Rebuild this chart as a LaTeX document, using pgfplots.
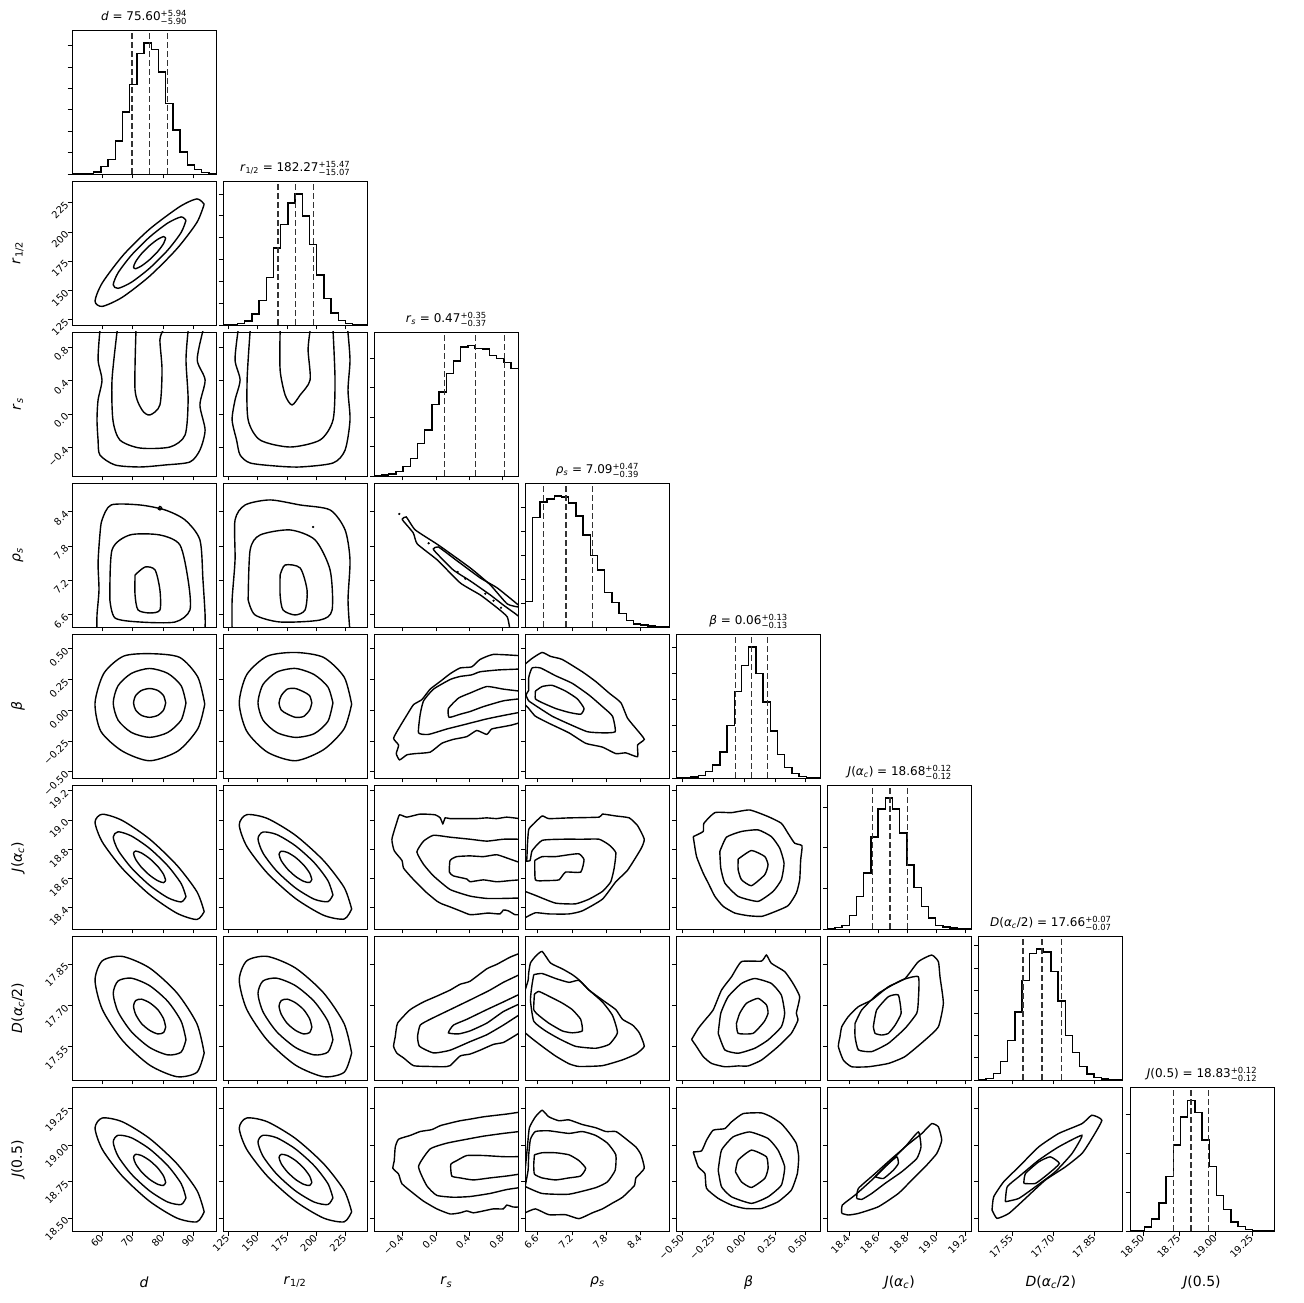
\documentclass[border=0pt]{standalone}
\usepackage{pgfplots}
\pgfplotsset{compat=1.18}
\usepackage{fontspec}
\setmainfont{DejaVu Sans}
\newcommand{\pq}[2]{$^{\mbox{\fontsize{8.4}{9}\selectfont +#1}}_{\mbox{\fontsize{8.4}{9}\selectfont −#2}}$}
\pgfplotsset{
  cp/.style={scale only axis, width=144pt, height=144pt, anchor=south west,
    axis line style={line width=0.8pt}, tick align=outside, major tick length=4.5pt,
    every tick/.append style={line width=0.8pt, black}, xtick pos=left, ytick pos=left,
    xticklabel=\empty, yticklabel=\empty,
    ticklabel style={font=\fontsize{9.8}{11}\selectfont},
    xticklabel style={rotate=45, anchor=east, inner sep=1pt},
    yticklabel style={rotate=45, anchor=east, inner sep=1pt},
    label style={font=\fontsize{14}{16}\selectfont},
    xlabel style={at={(axis description cs:0.5,-0.355)}, anchor=center},
    ylabel style={at={(axis description cs:-0.375,0.5)}, anchor=center},
    title style={font=\fontsize{12}{14}\selectfont, at={(axis description cs:0.5,1)}, anchor=south, yshift=-0.5pt, inner sep=0pt}},
  cl/.style={black, line width=1.4pt, smooth, tension=0.45, mark=none},
  hl/.style={black, line width=1.4pt, const plot, mark=none},
  ql/.style={black!80, line width=1.6pt, dash pattern=on 6pt off 3pt},
  xd/.style={xmin=50, xmax=97.5, xtick={60,70,80,90}},
  xr/.style={xmin=120.5, xmax=243.5, xtick={125,150,175,200,225}},
  yr/.style={ymin=120.5, ymax=243.5, ytick={125,150,175,200,225}},
  xrs/.style={xmin=-0.74, xmax=0.985, xtick={-0.4,0,0.4,0.8}},
  yrs/.style={ymin=-0.74, ymax=0.985, ytick={-0.4,0,0.4,0.8}},
  xrho/.style={xmin=6.385, xmax=8.90, xtick={6.6,7.2,7.8,8.4}},
  yrho/.style={ymin=6.385, ymax=8.90, ytick={6.6,7.2,7.8,8.4}},
  xb/.style={xmin=-0.55, xmax=0.62, xtick={-0.5,-0.25,0,0.25,0.5}},
  yb/.style={ymin=-0.55, ymax=0.62, ytick={-0.5,-0.25,0,0.25,0.5}},
  xj/.style={xmin=18.255, xmax=19.24, xtick={18.4,18.6,18.8,19.0,19.2}},
  yj/.style={ymin=18.255, ymax=19.24, ytick={18.4,18.6,18.8,19.0,19.2}},
  xD/.style={xmin=17.43, xmax=17.952, xtick={17.55,17.7,17.85}},
  yD/.style={ymin=17.43, ymax=17.952, ytick={17.55,17.7,17.85}},
  xJ/.style={xmin=18.41, xmax=19.40, xtick={18.5,18.75,19,19.25}},
  yJ/.style={ymin=18.41, ymax=19.40, ytick={18.5,18.75,19,19.25}},
  Bd/.style={xticklabels={60,70,80,90}, xlabel={\textit{d}}},
  Br/.style={xticklabels={125,150,175,200,225}, xlabel={\textit{r}\textsubscript{1/2}}},
  Brs/.style={xticklabels={−0.4,0.0,0.4,0.8}, xlabel={\textit{r}\textsubscript{\textit{s}}}},
  Brho/.style={xticklabels={6.6,7.2,7.8,8.4}, xlabel={\textit{ρ}\textsubscript{\textit{s}}}},
  Bb/.style={xticklabels={−0.50,−0.25,0.00,0.25,0.50}, xlabel={\textit{β}}},
  Bj/.style={xticklabels={18.4,18.6,18.8,19.0,19.2}, xlabel={\textit{J}(\textit{α}\textsubscript{\textit{c}})}},
  BD/.style={xticklabels={17.55,17.70,17.85}, xlabel={\textit{D}(\textit{α}\textsubscript{\textit{c}}/2)}},
  BJ/.style={xticklabels={18.50,18.75,19.00,19.25}, xlabel={\textit{J}(0.5)}},
  Lr/.style={yticklabels={125,150,175,200,225}, ylabel={\textit{r}\textsubscript{1/2}}},
  Lrs/.style={yticklabels={−0.4,0.0,0.4,0.8}, ylabel={\textit{r}\textsubscript{\textit{s}}}},
  Lrho/.style={yticklabels={6.6,7.2,7.8,8.4}, ylabel={\textit{ρ}\textsubscript{\textit{s}}}},
  Lb/.style={yticklabels={−0.50,−0.25,0.00,0.25,0.50}, ylabel={\textit{β}}},
  Lj/.style={yticklabels={18.4,18.6,18.8,19.0,19.2}, ylabel={\textit{J}(\textit{α}\textsubscript{\textit{c}})}},
  LD/.style={yticklabels={17.55,17.70,17.85}, ylabel={\textit{D}(\textit{α}\textsubscript{\textit{c}}/2)}},
  LJ/.style={yticklabels={18.50,18.75,19.00,19.25}, ylabel={\textit{J}(0.5)}},
}
\begin{document}
\begin{tikzpicture}
\useasboundingbox (0,0) rectangle (1303pt,1303pt);
% ===== Row 1: d histogram
\begin{axis}[cp, at={(72pt,1129pt)}, xd, ymin=0, ymax=6.74, ytick={0,1,2,3,4,5,6}, title={\textit{d} = 75.60\pq{5.94}{5.90}}]
\addplot[hl] coordinates {(50,0) (52.375,0.03) (54.75,0.03) (57.125,0.09) (59.5,0.34) (61.875,0.69) (64.25,1.55) (66.625,2.91) (69,4.20) (71.375,5.64) (73.75,6.13) (76.125,5.84) (78.5,4.78) (80.875,3.31) (83.25,2.06) (85.625,1.03) (88,0.42) (90.375,0.22) (92.75,0.08) (95.125,0.03) (97.5,0.03)};
\addplot[ql] coordinates {(69.70,0) (69.70,6.74)};
\addplot[ql] coordinates {(75.60,0) (75.60,6.74)};
\addplot[ql] coordinates {(81.54,0) (81.54,6.74)};
\end{axis}
% ===== Row 2
\begin{axis}[cp, at={(72pt,978pt)}, xd, yr, Lr]
\addplot[cl] coordinates {(80.9,194.7) (80.2,196.0) (78.3,193.7) (75.6,188.3) (72.9,181.3) (71.0,174.6) (70.3,169.9) (71.0,168.6) (72.9,170.9) (75.6,176.3) (78.3,183.3) (80.2,190.0) (80.9,194.7)};
\addplot[cl] coordinates {(87.6,209.8) (86.0,212.8) (81.6,207.6) (75.6,195.6) (69.6,180.1) (65.2,165.1) (63.6,154.8) (65.2,151.8) (69.6,157.0) (75.6,169.0) (81.6,184.5) (86.0,199.5) (87.6,209.8)};
\addplot[cl] coordinates {(93.6,223.7) (91.2,228.2) (85.5,221.5) (75.6,202.4) (67.0,180.5) (60.0,156.5) (57.6,140.9) (60.0,136.4) (66.6,144.2) (75.6,162.2) (84.6,185.6) (91.2,208.1) (93.6,223.7)};
\end{axis}
\begin{axis}[cp, at={(223.1pt,978pt)}, xr, ymin=0, ymax=6.6, ytick={0,1,2,3,4,5,6}, title={\textit{r}\textsubscript{1/2} = 182.27\pq{15.47}{15.07}}]
\addplot[hl] coordinates {(120.5,0.004) (126.65,0.016) (132.8,0.06) (138.95,0.19) (145.1,0.50) (151.25,1.12) (157.4,2.19) (163.55,3.53) (169.7,4.6) (175.85,5.6) (182.0,6.0) (188.15,5.0) (194.3,3.7) (200.45,2.29) (206.6,1.21) (212.75,0.55) (218.9,0.21) (225.05,0.07) (231.2,0.02) (237.35,0.004) (243.5,0.004)};
\addplot[ql] coordinates {(167.20,0) (167.20,6.6)};
\addplot[ql] coordinates {(182.27,0) (182.27,6.6)};
\addplot[ql] coordinates {(197.74,0) (197.74,6.6)};
\end{axis}
% ===== Row 3: rs
\begin{axis}[cp, at={(72pt,827pt)}, xd, yrs, Lrs]
\addplot[cl] coordinates {(59.2,1.0) (58.6,0.65) (59.9,0.41) (58.6,0.17) (58.25,-0.069) (58.6,-0.309) (59.2,-0.488) (64.2,-0.608) (72.4,-0.632) (80.7,-0.608) (88.9,-0.572) (92.2,-0.429) (93.9,-0.189) (92.2,0.111) (93.9,0.41) (91.3,0.65) (93.2,1.0)};
\addplot[cl] coordinates {(64.9,1.0) (63.2,0.41) (63.5,-0.069) (65.8,-0.309) (72.4,-0.405) (82.3,-0.393) (87.3,-0.249) (88.3,0.17) (87.6,0.65) (88.3,1.0)};
\addplot[cl] coordinates {(71.1,1.0) (70.8,0.29) (73.1,0.051) (75.7,-0.009) (79.0,0.111) (79.7,0.53) (79.0,0.889) (80.0,1.0)};
\end{axis}
\begin{axis}[cp, at={(223.1pt,827pt)}, xr, yrs]
\addplot[cl] coordinates {(133.3,1.0) (130.7,0.65) (135.0,0.41) (130.7,0.17) (128.2,-0.069) (132,-0.309) (135.0,-0.488) (143.6,-0.584) (165,-0.62) (186.3,-0.632) (214.4,-0.584) (224.7,-0.429) (228.9,-0.069) (227.2,0.29) (228.9,0.65) (227,1.0)};
\addplot[cl] coordinates {(143.6,1.0) (141.0,0.41) (141.9,-0.069) (152.1,-0.309) (177.7,-0.393) (203.3,-0.309) (214.4,-0.069) (216.1,0.41) (214.4,1.0)};
\addplot[cl] coordinates {(169.2,1.0) (169.2,0.53) (173.5,0.23) (179.4,0.111) (186.3,0.23) (194.8,0.41) (193.1,0.77) (194.8,1.0)};
\end{axis}
\begin{axis}[cp, at={(374.3pt,827pt)}, xrs, ymin=0, ymax=4.9, ytick={0,1,2,3,4}, title={\textit{r}\textsubscript{\textit{s}} = 0.47\pq{0.35}{0.37}}]
\addplot[hl] coordinates {(-0.74,0.01) (-0.65375,0.034) (-0.5675,0.068) (-0.48125,0.159) (-0.395,0.33) (-0.30875,0.60) (-0.2225,1.11) (-0.13625,1.56) (-0.05,2.44) (0.03625,2.86) (0.1225,3.48) (0.20875,3.91) (0.295,4.39) (0.38125,4.45) (0.4675,4.34) (0.55375,4.32) (0.64,4.11) (0.72625,4.00) (0.8125,3.86) (0.89875,3.66) (0.985,3.66)};
\addplot[ql] coordinates {(0.10,0) (0.10,4.9)};
\addplot[ql] coordinates {(0.47,0) (0.47,4.9)};
\addplot[ql] coordinates {(0.82,0) (0.82,4.9)};
\end{axis}
% ===== Row 4: rho_s
\begin{axis}[cp, at={(72pt,676pt)}, xd, yrho, Lrho]
\addplot[cl] coordinates {(58.25,6.3) (58.25,6.595) (58.9,7.031) (58.6,7.5) (59.2,7.992) (59.9,8.254) (62.9,8.516) (72.4,8.516) (80.7,8.429) (87.3,8.254) (92.2,7.905) (93.2,7.206) (93.9,6.6) (93.9,6.3)};
\addplot[cl] coordinates {(62.5,6.857) (63.2,7.730) (69.1,7.992) (79.0,7.992) (85.6,7.818) (88.3,7.206) (88.9,6.682) (84.0,6.472) (72.4,6.472) (64.2,6.542) (62.5,6.857)};
\addplot[cl] coordinates {(70.8,7.293) (74.1,7.433) (77.4,7.381) (79.0,7.031) (79.0,6.682) (75.7,6.630) (71.8,6.682) (70.8,6.944) (70.8,7.293)};
\addplot[cl] coordinates {(78.4,8.45) (79.0,8.49) (79.6,8.46) (79.0,8.43) (78.4,8.45)};
\end{axis}
\begin{axis}[cp, at={(223.1pt,676pt)}, xr, yrho]
\addplot[cl] coordinates {(128.2,6.3) (128.2,6.857) (130.7,7.555) (130.7,8.254) (139.3,8.516) (160.6,8.604) (186.3,8.516) (211.9,8.429) (224.7,8.080) (228.9,7.555) (227.2,6.857) (228.9,6.3)};
\addplot[cl] coordinates {(141.9,6.857) (143.6,7.730) (152.1,7.992) (177.7,8.080) (199.1,7.905) (211.9,7.381) (213.6,6.682) (203.3,6.507) (169.2,6.472) (147.8,6.595) (141.9,6.857)};
\addplot[cl] coordinates {(169.2,7.293) (173.5,7.468) (186.3,7.416) (192.2,7.031) (190.5,6.682) (182.0,6.595) (171.7,6.682) (169.2,6.944) (169.2,7.293)};
\addplot[only marks, mark=*, mark size=0.9pt, black] coordinates {(197.4,8.132)};
\end{axis}
\begin{axis}[cp, at={(374.3pt,676pt)}, xrs, yrho]
\addplot[cl, tension=0.3] coordinates {(0.889,6.3) (0.853,6.56) (0.734,6.717) (0.530,6.944) (0.290,7.154) (0.015,7.555) (-0.225,7.835) (-0.273,8.027) (-0.393,8.237) (-0.405,8.272) (-0.357,8.307) (-0.249,8.08) (0.027,7.817) (0.410,7.416) (0.650,7.119) (0.853,6.787) (1.0,6.73)};
\addplot[cl, tension=0.3] coordinates {(1.0,6.752) (0.734,7.066) (0.530,7.241) (0.254,7.538) (0.027,7.783) (-0.033,7.748) (0.003,7.678) (0.206,7.381) (0.410,7.189) (0.650,6.944) (0.805,6.769) (0.937,6.63) (1.0,6.56)};
\addplot[only marks, mark=*, mark size=0.9pt, black] coordinates {(-0.44,8.359) (-0.089,7.847) (0.258,7.346) (0.35,7.229) (0.59,6.967) (0.689,6.844) (0.778,6.722)};
\end{axis}
\begin{axis}[cp, at={(525.4pt,676pt)}, xrho, ymin=0, ymax=6.0, ytick={0,1,2,3,4,5}, title={\textit{ρ}\textsubscript{\textit{s}} = 7.09\pq{0.47}{0.39}}]
\addplot[hl] coordinates {(6.385,1.06) (6.51075,4.55) (6.6365,5.20) (6.76225,5.34) (6.888,5.45) (7.01375,5.41) (7.1395,5.16) (7.26525,4.62) (7.391,3.83) (7.51675,2.99) (7.6425,2.38) (7.76825,1.44) (7.894,1.01) (8.01975,0.56) (8.1455,0.28) (8.27125,0.13) (8.397,0.08) (8.52275,0.04) (8.6485,0.014) (8.77425,0) (8.90,0)};
\addplot[ql] coordinates {(6.70,0) (6.70,6.0)};
\addplot[ql] coordinates {(7.09,0) (7.09,6.0)};
\addplot[ql] coordinates {(7.56,0) (7.56,6.0)};
\end{axis}
% ===== Row 5: beta
\begin{axis}[cp, at={(72pt,525pt)}, xd, yb, Lb]
\addplot[cl] coordinates {(80.9,0.060) (80.2,0.119) (78.3,0.161) (75.6,0.177) (72.9,0.161) (71.0,0.119) (70.3,0.060) (71.0,0.002) (72.9,-0.041) (75.6,-0.057) (78.3,-0.041) (80.2,0.002) (80.9,0.060)};
\addplot[cl] coordinates {(87.6,0.06) (86.0,0.20) (81.6,0.30) (75.6,0.34) (69.6,0.30) (65.2,0.20) (63.6,0.06) (65.2,-0.08) (69.6,-0.18) (75.6,-0.22) (81.6,-0.18) (86.0,-0.08) (87.6,0.06)};
\addplot[cl] coordinates {(93.8,0.05) (91.5,0.27) (85.5,0.43) (76,0.46) (67,0.44) (60.5,0.30) (57.6,0.06) (59.5,-0.17) (66.5,-0.33) (75.6,-0.41) (85,-0.33) (91.5,-0.15) (93.8,0.05)};
\end{axis}
\begin{axis}[cp, at={(223.1pt,525pt)}, xr, yb]
\addplot[cl] coordinates {(196.3,0.060) (194.4,0.119) (189.3,0.150) (182.3,0.177) (175.3,0.172) (170.2,0.119) (168.3,0.060) (170.2,0.002) (175.3,-0.030) (182.3,-0.057) (189.3,-0.050) (194.4,0.002) (196.3,0.060)};
\addplot[cl] coordinates {(214.3,0.06) (210.0,0.19) (198.3,0.29) (182.3,0.34) (166.3,0.31) (154.6,0.21) (150.3,0.06) (154.6,-0.08) (166.3,-0.18) (182.3,-0.22) (198.3,-0.19) (210.0,-0.09) (214.3,0.06)};
\addplot[cl] coordinates {(230.3,0.05) (223.9,0.27) (206.3,0.43) (182.3,0.47) (158.3,0.44) (140.7,0.29) (134.3,0.06) (140.7,-0.17) (158.3,-0.34) (182.3,-0.41) (206.3,-0.32) (223.9,-0.15) (230.3,0.05)};
\end{axis}
\begin{axis}[cp, at={(374.3pt,525pt)}, xrs, yb]
\addplot[cl, tension=0.3] coordinates {(1.0,0.444) (0.686,0.454) (0.527,0.413) (0.427,0.353) (0.288,0.344) (0.168,0.297) (0.049,0.234) (-0.071,0.172) (-0.170,0.087) (-0.270,0.046) (-0.350,-0.039) (-0.429,-0.127) (-0.509,-0.227) (-0.449,-0.283) (-0.477,-0.352) (-0.437,-0.403) (-0.350,-0.362) (-0.250,-0.352) (-0.071,-0.340) (0.069,-0.268) (0.208,-0.236) (0.368,-0.214) (0.487,-0.164) (0.607,-0.196) (0.666,-0.152) (0.806,-0.133) (0.905,-0.120) (1.0,-0.101)};
\addplot[cl, tension=0.3] coordinates {(1.0,0.335) (0.746,0.328) (0.527,0.313) (0.427,0.288) (0.288,0.275) (0.168,0.250) (-0.031,0.172) (-0.150,0.077) (-0.190,-0.032) (-0.210,-0.183) (-0.091,-0.196) (0.129,-0.152) (0.368,-0.111) (0.607,-0.070) (0.806,-0.042) (1.0,-0.017)};
\addplot[cl, tension=0.3] coordinates {(1.0,0.156) (0.806,0.172) (0.607,0.193) (0.407,0.140) (0.268,0.099) (0.148,0.015) (0.156,-0.057) (0.288,-0.032) (0.407,-0.010) (0.567,0.030) (0.806,0.077) (1.0,0.093)};
\end{axis}
\begin{axis}[cp, at={(525.4pt,525pt)}, xrho, yb]
\addplot[cl, tension=0.3] coordinates {(6.38,0.375) (6.502,0.422) (6.677,0.470) (6.824,0.438) (7.028,0.413) (7.379,0.313) (7.613,0.234) (7.847,0.140) (8.052,0.062) (8.169,-0.064) (8.344,-0.164) (8.461,-0.236) (8.344,-0.283) (8.344,-0.377) (8.140,-0.346) (7.964,-0.352) (7.730,-0.299) (7.438,-0.268) (7.145,-0.183) (6.794,-0.105) (6.560,-0.048) (6.443,0.015) (6.38,0.046)};
\addplot[cl, tension=0.3] coordinates {(6.443,0.162) (6.443,0.266) (6.502,0.344) (6.648,0.344) (6.911,0.281) (7.204,0.219) (7.496,0.124) (7.730,0.030) (7.906,-0.048) (7.953,-0.174) (7.730,-0.183) (7.467,-0.174) (7.145,-0.111) (6.853,-0.048) (6.590,0.030) (6.443,0.077) (6.397,0.124) (6.443,0.162)};
\addplot[cl, tension=0.3] coordinates {(6.560,0.156) (6.677,0.193) (6.853,0.203) (7.087,0.156) (7.292,0.093) (7.409,0.015) (7.350,-0.032) (7.145,-0.017) (6.911,0.015) (6.677,0.062) (6.560,0.093) (6.560,0.156)};
\end{axis}
\begin{axis}[cp, at={(676.6pt,525pt)}, xb, ymin=0, ymax=5.5, ytick={0,1,2,3,4,5}, title={\textit{β} = 0.06\pq{0.13}{0.13}}]
\addplot[hl] coordinates {(-0.55,0.01) (-0.4915,0.02) (-0.433,0.04) (-0.3745,0.1) (-0.316,0.25) (-0.2575,0.5) (-0.199,1.0) (-0.1405,2.0) (-0.082,3.3) (-0.0235,4.3) (0.035,5.0) (0.0935,4.0) (0.152,2.9) (0.2105,1.8) (0.269,0.9) (0.3275,0.4) (0.386,0.17) (0.4445,0.06) (0.503,0.02) (0.5615,0.005) (0.62,0.005)};
\addplot[ql] coordinates {(-0.07,0) (-0.07,5.5)};
\addplot[ql] coordinates {(0.06,0) (0.06,5.5)};
\addplot[ql] coordinates {(0.19,0) (0.19,5.5)};
\end{axis}
% ===== Row 6: J(alpha_c)
\begin{axis}[cp, at={(72pt,374pt)}, xd, yj, Lj]
\addplot[cl] coordinates {(80.9,18.588) (80.2,18.629) (78.3,18.683) (75.6,18.737) (72.9,18.775) (71.0,18.788) (70.3,18.772) (71.0,18.731) (72.9,18.677) (75.6,18.623) (78.3,18.585) (80.2,18.572) (80.9,18.588)};
\addplot[cl] coordinates {(87.6,18.476) (86.0,18.566) (81.6,18.687) (75.6,18.806) (69.6,18.891) (65.2,18.920) (63.6,18.884) (65.2,18.794) (69.6,18.673) (75.6,18.554) (81.6,18.469) (86.0,18.440) (87.6,18.476)};
\addplot[cl] coordinates {(93.6,18.374) (91.2,18.510) (84.6,18.691) (75.6,18.870) (66.6,18.997) (60.0,19.040) (57.6,18.986) (60.0,18.850) (66.6,18.669) (75.6,18.490) (84.6,18.363) (91.2,18.320) (93.6,18.374)};
\end{axis}
\begin{axis}[cp, at={(223.1pt,374pt)}, xr, yj]
\addplot[cl] coordinates {(196.3,18.594) (194.4,18.638) (189.3,18.693) (182.3,18.745) (175.3,18.779) (170.2,18.787) (168.3,18.766) (170.2,18.722) (175.3,18.667) (182.3,18.615) (189.3,18.581) (194.4,18.573) (196.3,18.594)};
\addplot[cl] coordinates {(214.3,18.488) (210.0,18.586) (198.3,18.709) (182.3,18.824) (166.3,18.901) (154.6,18.918) (150.3,18.872) (154.6,18.774) (166.3,18.651) (182.3,18.536) (198.3,18.459) (210.0,18.442) (214.3,18.488)};
\addplot[cl] coordinates {(230.3,18.392) (223.9,18.539) (206.3,18.723) (182.3,18.896) (158.3,19.011) (140.7,19.037) (134.3,18.968) (140.7,18.821) (158.3,18.637) (182.3,18.464) (206.3,18.349) (223.9,18.323) (230.3,18.392)};
\end{axis}
\begin{axis}[cp, at={(374.3pt,374pt)}, xrs, yj]
\addplot[cl, tension=0.3] coordinates {(1.0,19.010) (0.846,19.020) (0.726,19.010) (0.607,19.015) (0.487,19.010) (0.328,19.010) (0.168,19.010) (0.109,19.015) (0.081,18.975) (0.049,19.015) (-0.011,19.036) (-0.190,19.041) (-0.350,19.020) (-0.437,19.036) (-0.469,18.988) (-0.529,18.869) (-0.501,18.790) (-0.409,18.724) (-0.389,18.671) (-0.290,18.605) (-0.130,18.512) (0.009,18.446) (0.069,18.427) (0.168,18.406) (0.288,18.379) (0.407,18.353) (0.527,18.358) (0.627,18.364) (0.766,18.358) (0.806,18.385) (0.866,18.379) (0.945,18.353) (1.0,18.353)};
\addplot[cl, tension=0.3] coordinates {(1.0,18.869) (0.806,18.869) (0.607,18.856) (0.407,18.869) (0.168,18.883) (-0.031,18.896) (-0.150,18.856) (-0.230,18.782) (-0.150,18.697) (-0.031,18.618) (0.168,18.525) (0.407,18.480) (0.607,18.464) (0.806,18.464) (1.0,18.467)};
\addplot[cl, tension=0.3] coordinates {(1.0,18.710) (0.866,18.737) (0.726,18.763) (0.567,18.750) (0.407,18.755) (0.248,18.750) (0.168,18.724) (0.160,18.644) (0.208,18.618) (0.368,18.597) (0.407,18.578) (0.567,18.591) (0.726,18.578) (0.885,18.586) (1.0,18.591)};
\end{axis}
\begin{axis}[cp, at={(525.4pt,374pt)}, xrho, yj]
\addplot[cl, tension=0.3] coordinates {(6.38,18.332) (6.560,18.366) (6.794,18.358) (7.145,18.358) (7.379,18.379) (7.730,18.459) (7.964,18.578) (8.169,18.657) (8.403,18.803) (8.461,18.869) (8.344,18.962) (8.198,19.015) (7.964,19.028) (7.730,19.041) (7.672,19.020) (7.145,19.015) (6.794,19.010) (6.677,19.028) (6.531,18.975) (6.443,18.936) (6.420,18.830) (6.408,18.724) (6.38,18.718)};
\addplot[cl, tension=0.3] coordinates {(6.38,18.512) (6.560,18.485) (6.911,18.432) (7.262,18.427) (7.496,18.459) (7.730,18.512) (7.876,18.578) (7.935,18.671) (7.964,18.777) (7.847,18.830) (7.672,18.869) (7.379,18.869) (7.028,18.869) (6.677,18.861) (6.502,18.790) (6.467,18.724) (6.38,18.718)};
\addplot[cl, tension=0.3] coordinates {(6.549,18.724) (6.677,18.750) (6.911,18.750) (7.145,18.763) (7.321,18.769) (7.409,18.729) (7.350,18.644) (7.087,18.644) (6.970,18.591) (6.736,18.586) (6.560,18.591) (6.549,18.724)};
\end{axis}
\begin{axis}[cp, at={(676.6pt,374pt)}, xb, yj]
\addplot[cl, tension=0.3] coordinates {(-0.415,18.887) (-0.334,18.922) (-0.328,18.978) (-0.239,19.051) (-0.104,19.051) (0.044,19.069) (0.193,19.024) (0.301,18.978) (0.355,18.910) (0.409,18.842) (0.469,18.824) (0.458,18.728) (0.450,18.592) (0.423,18.501) (0.355,18.414) (0.220,18.364) (0.139,18.341) (0.031,18.346) (-0.077,18.364) (-0.172,18.410) (-0.239,18.478) (-0.293,18.569) (-0.334,18.637) (-0.388,18.751) (-0.415,18.887)};
\addplot[cl, tension=0.3] coordinates {(-0.199,18.785) (-0.145,18.883) (-0.023,18.922) (0.112,18.933) (0.220,18.887) (0.288,18.808) (0.323,18.705) (0.301,18.592) (0.234,18.512) (0.112,18.444) (-0.050,18.478) (-0.158,18.569) (-0.191,18.671) (-0.199,18.785)};
\addplot[cl, tension=0.3] coordinates {(-0.050,18.733) (0.058,18.792) (0.166,18.751) (0.193,18.694) (0.166,18.626) (0.058,18.551) (-0.023,18.592) (-0.050,18.660) (-0.050,18.733)};
\end{axis}
\begin{axis}[cp, at={(827.7pt,374pt)}, xj, ymin=0, ymax=3.54, ytick={0,1,2,3}, title={\textit{J}(\textit{α}\textsubscript{\textit{c}}) = 18.68\pq{0.12}{0.12}}]
\addplot[hl] coordinates {(18.255,0.016) (18.30425,0.041) (18.3535,0.090) (18.40275,0.33) (18.452,0.80) (18.50125,1.38) (18.5505,2.26) (18.59975,2.95) (18.649,3.22) (18.69825,2.95) (18.7475,2.36) (18.79675,1.57) (18.846,1.02) (18.89525,0.56) (18.9445,0.27) (18.99375,0.09) (19.043,0.049) (19.09225,0.025) (19.1415,0.016) (19.19075,0.008) (19.24,0.008)};
\addplot[ql] coordinates {(18.56,0) (18.56,3.54)};
\addplot[ql] coordinates {(18.68,0) (18.68,3.54)};
\addplot[ql] coordinates {(18.80,0) (18.80,3.54)};
\end{axis}
% ===== Row 7: D(alpha_c/2)
\begin{axis}[cp, at={(72pt,223pt)}, xd, yD, LD]
\addplot[cl] coordinates {(80.9,17.622) (80.2,17.652) (78.3,17.685) (75.6,17.710) (72.9,17.723) (71.0,17.718) (70.3,17.698) (71.0,17.668) (72.9,17.635) (75.6,17.610) (78.3,17.597) (80.2,17.602) (80.9,17.622)};
\addplot[cl] coordinates {(87.6,17.576) (86.0,17.643) (81.6,17.715) (75.6,17.772) (69.6,17.799) (65.2,17.789) (63.6,17.744) (65.2,17.677) (69.6,17.605) (75.6,17.548) (81.6,17.521) (86.0,17.531) (87.6,17.576)};
\addplot[cl] coordinates {(93.6,17.528) (91.2,17.634) (84.6,17.746) (75.6,17.836) (66.6,17.878) (60.0,17.862) (57.6,17.792) (60.0,17.686) (66.6,17.574) (75.6,17.484) (84.6,17.442) (91.2,17.458) (93.6,17.528)};
\end{axis}
\begin{axis}[cp, at={(223.1pt,223pt)}, xr, yD]
\addplot[cl] coordinates {(196.3,17.622) (194.4,17.652) (189.3,17.685) (182.3,17.710) (175.3,17.723) (170.2,17.718) (168.3,17.698) (170.2,17.668) (175.3,17.635) (182.3,17.610) (189.3,17.597) (194.4,17.602) (196.3,17.622)};
\addplot[cl] coordinates {(214.3,17.576) (210.0,17.643) (198.3,17.715) (182.3,17.772) (166.3,17.799) (154.6,17.789) (150.3,17.744) (154.6,17.677) (166.3,17.605) (182.3,17.548) (198.3,17.521) (210.0,17.531) (214.3,17.576)};
\addplot[cl] coordinates {(230.3,17.528) (223.9,17.634) (206.3,17.746) (182.3,17.836) (158.3,17.878) (140.7,17.862) (134.3,17.792) (140.7,17.686) (158.3,17.574) (182.3,17.484) (206.3,17.442) (223.9,17.458) (230.3,17.528)};
\end{axis}
\begin{axis}[cp, at={(374.3pt,223pt)}, xrs, yD]
\addplot[cl, tension=0.3] coordinates {(1.0,17.889) (0.885,17.875) (0.726,17.849) (0.607,17.833) (0.407,17.788) (0.288,17.777) (0.168,17.756) (0.009,17.734) (-0.150,17.713) (-0.310,17.685) (-0.461,17.636) (-0.489,17.587) (-0.509,17.552) (-0.469,17.527) (-0.389,17.510) (-0.270,17.482) (-0.071,17.479) (0.089,17.478) (0.168,17.482) (0.288,17.517) (0.407,17.524) (0.527,17.538) (0.686,17.559) (0.806,17.566) (0.925,17.587) (1.0,17.601)};
\addplot[cl, tension=0.3] coordinates {(1.0,17.812) (0.806,17.784) (0.646,17.756) (0.407,17.720) (0.168,17.685) (-0.071,17.650) (-0.190,17.629) (-0.222,17.587) (-0.198,17.552) (-0.031,17.528) (0.168,17.538) (0.407,17.569) (0.607,17.594) (0.806,17.629) (1.0,17.667)};
\addplot[cl, tension=0.3] coordinates {(1.0,17.741) (0.806,17.713) (0.607,17.685) (0.368,17.650) (0.208,17.629) (0.148,17.601) (0.268,17.597) (0.407,17.608) (0.607,17.636) (0.806,17.678) (1.0,17.706)};
\end{axis}
\begin{axis}[cp, at={(525.4pt,223pt)}, xrho, yD]
\addplot[cl, tension=0.3] coordinates {(6.38,17.756) (6.432,17.791) (6.443,17.819) (6.473,17.854) (6.560,17.878) (6.677,17.896) (6.824,17.854) (7.028,17.833) (7.204,17.812) (7.321,17.793) (7.496,17.756) (7.730,17.720) (7.964,17.685) (8.081,17.650) (8.257,17.629) (8.374,17.601) (8.461,17.552) (8.315,17.524) (8.081,17.503) (7.730,17.482) (7.321,17.479) (7.145,17.489) (6.911,17.517) (6.677,17.552) (6.502,17.580) (6.38,17.601)};
\addplot[cl, tension=0.3] coordinates {(6.531,17.812) (6.677,17.816) (6.911,17.798) (7.145,17.784) (7.321,17.791) (7.496,17.756) (7.730,17.713) (7.906,17.664) (7.993,17.601) (7.847,17.559) (7.613,17.545) (7.262,17.552) (6.970,17.580) (6.736,17.608) (6.531,17.643) (6.473,17.720) (6.502,17.777) (6.531,17.812)};
\addplot[cl, tension=0.3] coordinates {(6.543,17.741) (6.619,17.751) (6.794,17.734) (7.028,17.709) (7.204,17.685) (7.350,17.650) (7.379,17.608) (7.204,17.601) (7.028,17.608) (6.794,17.636) (6.619,17.664) (6.531,17.685) (6.543,17.741)};
\end{axis}
\begin{axis}[cp, at={(676.6pt,223pt)}, xb, yD]
\addplot[cl, tension=0.3] coordinates {(-0.428,17.577) (-0.374,17.617) (-0.320,17.647) (-0.253,17.684) (-0.185,17.756) (-0.104,17.804) (-0.023,17.859) (0.139,17.861) (0.180,17.883) (0.220,17.853) (0.328,17.823) (0.396,17.780) (0.450,17.732) (0.423,17.672) (0.436,17.647) (0.382,17.599) (0.274,17.551) (0.139,17.502) (0.031,17.481) (-0.050,17.481) (-0.158,17.478) (-0.266,17.490) (-0.334,17.515) (-0.388,17.551) (-0.428,17.577)};
\addplot[cl, tension=0.3] coordinates {(-0.212,17.599) (-0.191,17.672) (-0.131,17.732) (-0.023,17.780) (0.085,17.798) (0.220,17.780) (0.301,17.738) (0.328,17.672) (0.301,17.623) (0.193,17.575) (0.085,17.545) (-0.050,17.527) (-0.158,17.539) (-0.212,17.599)};
\addplot[cl, tension=0.3] coordinates {(-0.064,17.635) (-0.037,17.672) (0.017,17.708) (0.112,17.726) (0.180,17.702) (0.193,17.672) (0.161,17.641) (0.071,17.599) (-0.050,17.599) (-0.064,17.635)};
\end{axis}
\begin{axis}[cp, at={(827.7pt,223pt)}, xj, yD]
\addplot[cl, tension=0.3] coordinates {(18.339,17.587) (18.351,17.623) (18.396,17.660) (18.465,17.696) (18.556,17.720) (18.670,17.768) (18.784,17.798) (18.875,17.859) (18.966,17.883) (19.012,17.859) (19.023,17.804) (19.046,17.708) (19.012,17.623) (18.921,17.575) (18.784,17.515) (18.670,17.490) (18.533,17.478) (18.419,17.478) (18.362,17.502) (18.328,17.551) (18.339,17.587)};
\addplot[cl, tension=0.3] coordinates {(18.442,17.635) (18.488,17.684) (18.602,17.744) (18.761,17.792) (18.875,17.804) (18.875,17.720) (18.864,17.672) (18.784,17.617) (18.670,17.563) (18.556,17.533) (18.465,17.539) (18.442,17.587) (18.442,17.635)};
\addplot[cl, tension=0.3] coordinates {(18.567,17.623) (18.590,17.684) (18.670,17.732) (18.738,17.738) (18.757,17.672) (18.716,17.629) (18.670,17.599) (18.624,17.593) (18.579,17.599) (18.567,17.623)};
\end{axis}
\begin{axis}[cp, at={(978.8pt,223pt)}, xD, ymin=0, ymax=6.44, ytick={0,1,2,3,4,5,6}, title={\textit{D}(\textit{α}\textsubscript{\textit{c}}/2) = 17.66\pq{0.07}{0.07}}]
\addplot[hl] coordinates {(17.43,0) (17.4561,0.075) (17.4822,0.30) (17.5083,0.82) (17.5344,1.76) (17.5605,3.04) (17.5866,4.45) (17.6127,5.67) (17.6388,5.85) (17.6649,5.72) (17.691,4.85) (17.7171,3.54) (17.7432,1.99) (17.7693,1.22) (17.7954,0.60) (17.8215,0.27) (17.8476,0.10) (17.8737,0.045) (17.8998,0.015) (17.9259,0) (17.952,0)};
\addplot[ql] coordinates {(17.59,0) (17.59,6.44)};
\addplot[ql] coordinates {(17.66,0) (17.66,6.44)};
\addplot[ql] coordinates {(17.73,0) (17.73,6.44)};
\end{axis}
% ===== Row 8: J(0.5)
\begin{axis}[cp, at={(72pt,72pt)}, xd, yJ, LJ, Bd]
\addplot[cl] coordinates {(80.9,18.744) (80.2,18.788) (78.3,18.843) (75.6,18.895) (72.9,18.929) (71.0,18.937) (70.3,18.916) (71.0,18.872) (72.9,18.817) (75.6,18.765) (78.3,18.731) (80.2,18.723) (80.9,18.744)};
\addplot[cl] coordinates {(87.6,18.638) (86.0,18.736) (81.6,18.859) (75.6,18.974) (69.6,19.051) (65.2,19.068) (63.6,19.022) (65.2,18.924) (69.6,18.801) (75.6,18.686) (81.6,18.609) (86.0,18.592) (87.6,18.638)};
\addplot[cl] coordinates {(93.6,18.542) (91.2,18.689) (84.6,18.873) (75.6,19.046) (66.6,19.161) (60.0,19.187) (57.6,19.118) (60.0,18.971) (66.6,18.787) (75.6,18.614) (84.6,18.499) (91.2,18.473) (93.6,18.542)};
\end{axis}
\begin{axis}[cp, at={(223.1pt,72pt)}, xr, yJ, Br]
\addplot[cl] coordinates {(196.3,18.744) (194.4,18.788) (189.3,18.843) (182.3,18.895) (175.3,18.929) (170.2,18.937) (168.3,18.916) (170.2,18.872) (175.3,18.817) (182.3,18.765) (189.3,18.731) (194.4,18.723) (196.3,18.744)};
\addplot[cl] coordinates {(214.3,18.638) (210.0,18.736) (198.3,18.859) (182.3,18.974) (166.3,19.051) (154.6,19.068) (150.3,19.022) (154.6,18.924) (166.3,18.801) (182.3,18.686) (198.3,18.609) (210.0,18.592) (214.3,18.638)};
\addplot[cl] coordinates {(230.3,18.542) (223.9,18.689) (206.3,18.873) (182.3,19.046) (158.3,19.161) (140.7,19.187) (134.3,19.118) (140.7,18.971) (158.3,18.787) (182.3,18.614) (206.3,18.499) (223.9,18.473) (230.3,18.542)};
\end{axis}
\begin{axis}[cp, at={(374.3pt,72pt)}, xrs, yJ, Brs]
\addplot[cl, tension=0.3] coordinates {(1.0,19.227) (0.846,19.214) (0.726,19.206) (0.567,19.195) (0.407,19.179) (0.288,19.168) (0.168,19.152) (0.049,19.134) (-0.051,19.107) (-0.190,19.094) (-0.310,19.067) (-0.449,19.041) (-0.489,18.987) (-0.501,18.894) (-0.517,18.841) (-0.449,18.801) (-0.409,18.735) (-0.270,18.668) (-0.150,18.615) (0.009,18.562) (0.168,18.527) (0.288,18.535) (0.368,18.548) (0.447,18.535) (0.567,18.548) (0.686,18.562) (0.806,18.562) (0.846,18.588) (0.925,18.575) (1.0,18.575)};
\addplot[cl, tension=0.3] coordinates {(1.0,19.094) (0.806,19.081) (0.567,19.062) (0.368,19.041) (0.129,19.014) (-0.071,18.974) (-0.210,18.854) (-0.111,18.721) (0.009,18.655) (0.208,18.642) (0.407,18.647) (0.646,18.668) (0.846,18.695) (1.0,18.708)};
\addplot[cl, tension=0.3] coordinates {(1.0,18.921) (0.806,18.921) (0.567,18.929) (0.368,18.929) (0.248,18.894) (0.176,18.868) (0.188,18.788) (0.288,18.775) (0.447,18.761) (0.646,18.775) (0.846,18.788) (1.0,18.801)};
\end{axis}
\begin{axis}[cp, at={(525.4pt,72pt)}, xrho, yJ, Brho]
\addplot[cl, tension=0.3] coordinates {(6.38,18.828) (6.420,18.987) (6.455,19.120) (6.560,19.195) (6.677,19.240) (6.794,19.195) (6.970,19.168) (7.145,19.174) (7.379,19.142) (7.613,19.120) (7.789,19.094) (7.964,19.094) (8.081,19.062) (8.315,18.987) (8.403,18.934) (8.461,18.841) (8.315,18.775) (8.286,18.721) (8.081,18.642) (7.906,18.602) (7.730,18.562) (7.555,18.535) (7.321,18.495) (7.087,18.522) (6.794,18.522) (6.560,18.562) (6.38,18.535)};
\addplot[cl, tension=0.3] coordinates {(6.38,18.716) (6.677,18.668) (7.145,18.663) (7.613,18.708) (7.818,18.748) (7.953,18.828) (7.964,18.934) (7.818,19.014) (7.613,19.067) (7.379,19.094) (7.145,19.081) (6.794,19.099) (6.560,19.094) (6.473,19.041) (6.443,18.934) (6.432,18.828) (6.38,18.716)};
\addplot[cl, tension=0.3] coordinates {(6.543,18.934) (6.677,18.948) (6.911,18.948) (7.145,18.934) (7.321,18.894) (7.438,18.841) (7.350,18.788) (7.145,18.775) (6.911,18.761) (6.677,18.775) (6.543,18.801) (6.531,18.868) (6.543,18.934)};
\end{axis}
\begin{axis}[cp, at={(676.6pt,72pt)}, xb, yJ, Bb]
\addplot[cl, tension=0.3] coordinates {(-0.415,18.954) (-0.347,18.961) (-0.307,19.034) (-0.253,19.103) (-0.158,19.114) (-0.104,19.160) (-0.010,19.217) (0.139,19.222) (0.220,19.194) (0.301,19.148) (0.369,19.080) (0.423,19.011) (0.442,18.920) (0.431,18.805) (0.382,18.691) (0.274,18.611) (0.139,18.565) (0.004,18.565) (-0.104,18.588) (-0.212,18.634) (-0.307,18.703) (-0.320,18.805) (-0.374,18.851) (-0.415,18.954)};
\addplot[cl, tension=0.3] coordinates {(-0.212,18.828) (-0.185,18.966) (-0.091,19.057) (0.044,19.091) (0.193,19.046) (0.274,18.966) (0.328,18.851) (0.301,18.725) (0.193,18.645) (0.058,18.600) (-0.104,18.645) (-0.185,18.714) (-0.212,18.828)};
\addplot[cl, tension=0.3] coordinates {(-0.072,18.817) (-0.050,18.897) (0.058,18.966) (0.180,18.920) (0.193,18.840) (0.166,18.771) (0.058,18.709) (-0.023,18.748) (-0.072,18.817)};
\end{axis}
\begin{axis}[cp, at={(827.7pt,72pt)}, xj, yJ, Bj]
\addplot[cl, tension=0.3] coordinates {(18.351,18.531) (18.355,18.588) (18.442,18.657) (18.556,18.760) (18.670,18.874) (18.784,18.988) (18.898,19.080) (18.966,19.148) (19.012,19.126) (19.035,19.034) (19.001,18.943) (18.921,18.851) (18.830,18.760) (18.738,18.668) (18.602,18.577) (18.465,18.531) (18.396,18.520) (18.351,18.531)};
\addplot[cl, tension=0.3] coordinates {(18.453,18.634) (18.465,18.703) (18.579,18.805) (18.693,18.908) (18.784,18.988) (18.875,19.091) (18.893,18.988) (18.864,18.908) (18.761,18.817) (18.647,18.737) (18.556,18.668) (18.488,18.627) (18.453,18.634)};
\addplot[cl, tension=0.3] coordinates {(18.579,18.783) (18.647,18.851) (18.727,18.920) (18.738,18.874) (18.704,18.828) (18.636,18.771) (18.579,18.783)};
\end{axis}
\begin{axis}[cp, at={(978.8pt,72pt)}, xD, yJ, BD]
\addplot[cl, tension=0.3] coordinates {(17.478,18.554) (17.484,18.645) (17.520,18.748) (17.575,18.851) (17.647,18.988) (17.719,19.080) (17.804,19.148) (17.840,19.206) (17.876,19.171) (17.840,19.046) (17.804,18.943) (17.744,18.851) (17.671,18.760) (17.599,18.634) (17.539,18.531) (17.496,18.497) (17.478,18.554)};
\addplot[cl, tension=0.3] coordinates {(17.526,18.611) (17.533,18.714) (17.575,18.783) (17.647,18.897) (17.719,18.988) (17.804,19.068) (17.768,18.943) (17.707,18.817) (17.635,18.714) (17.575,18.634) (17.526,18.611)};
\addplot[cl, tension=0.3] coordinates {(17.593,18.737) (17.599,18.805) (17.647,18.885) (17.689,18.920) (17.722,18.874) (17.683,18.805) (17.635,18.737) (17.593,18.737)};
\end{axis}
\begin{axis}[cp, at={(1130pt,72pt)}, xJ, BJ, ymin=0, ymax=3.69, ytick={0,1,2,3}, title={\textit{J}(0.5) = 18.83\pq{0.12}{0.12}}]
\addplot[hl] coordinates {(18.41,0) (18.4595,0.017) (18.509,0.10) (18.5585,0.31) (18.608,0.72) (18.6575,1.40) (18.707,2.20) (18.7565,2.92) (18.806,3.35) (18.8555,3.03) (18.905,2.33) (18.9545,1.65) (19.004,0.91) (19.0535,0.55) (19.103,0.23) (19.1525,0.11) (19.202,0.04) (19.2515,0.01) (19.301,0) (19.3505,0) (19.40,0)};
\addplot[ql] coordinates {(18.71,0) (18.71,3.69)};
\addplot[ql] coordinates {(18.83,0) (18.83,3.69)};
\addplot[ql] coordinates {(18.95,0) (18.95,3.69)};
\end{axis}
\end{tikzpicture}
\end{document}
